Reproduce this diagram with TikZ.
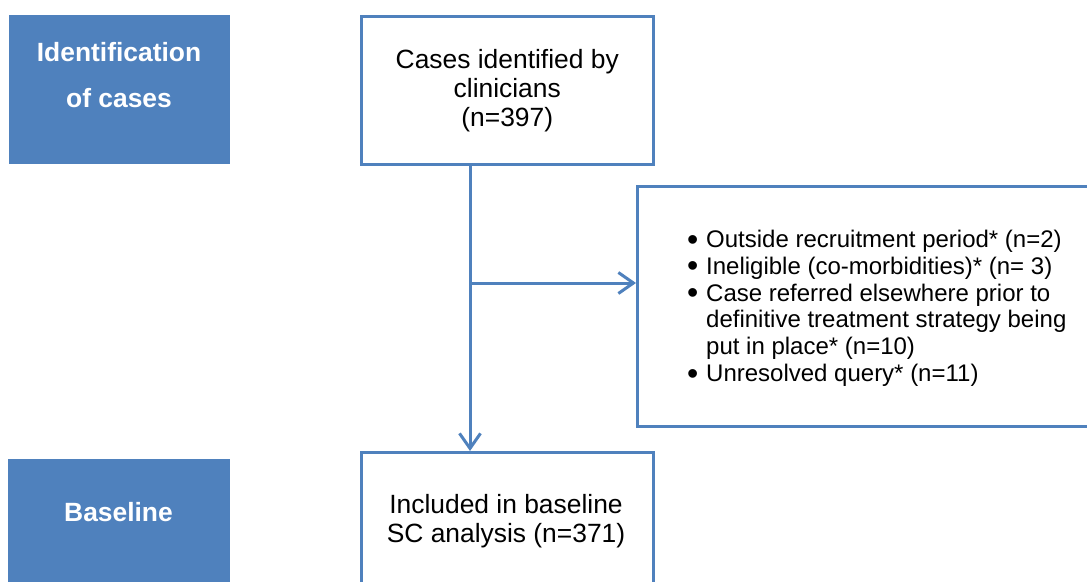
\documentclass[tikz,border=0pt]{standalone}
\usepackage{fontspec}
\setmainfont{Liberation Sans}
\usetikzlibrary{arrows.meta}
\definecolor{oblue}{HTML}{4F81BD}
\newcommand{\mybul}{\makebox[19pt][l]{\smash{\raisebox{-2.6pt}{\fontsize{32}{32}\selectfont\textbullet}}}}
\tikzset{
  stagebox/.style={fill=oblue, draw=oblue, line width=1pt, inner sep=0pt, anchor=north west},
  flowbox/.style={draw=oblue, fill=white, line width=2.5pt, inner sep=0pt, anchor=north west},
  stagetext/.style={text=white, font=\fontsize{26.4}{29}\selectfont\bfseries, align=center, inner sep=0pt},
  flowtext/.style={text=black, font=\fontsize{26.4}{29}\selectfont, align=center, inner sep=0pt},
  conn/.style={draw=oblue, line width=3pt},
  arr/.style={conn, -{Straight Barb[length=15pt,width=21pt]}}
}
\begin{document}
\begin{tikzpicture}[x=1pt,y=-1pt]
\useasboundingbox (0,0) rectangle (1087,581);
\clip (0,0) rectangle (1087,581);
\fill[white] (0,0) rectangle (1087,581);
% stage boxes
\node[stagebox, minimum width=220pt, minimum height=148pt] (ident) at (9,15) {};
\node[stagetext, anchor=base] (identtxt) at (119,107) {Identification\\[17pt]of cases};
\node[stagebox, minimum width=221pt, minimum height=140pt] (base) at (8,459) {};
\node[stagetext, anchor=base] (basetxt) at (118.5,521) {Baseline};
% flow boxes
\node[flowbox, minimum width=292pt, minimum height=148pt, flowtext] (cases) at (360,15) {Cases identified by\\clinicians\\(n=397)};
\node[flowbox, minimum width=470pt, minimum height=240pt] (excl) at (636,185) {};
\node[anchor=north west, inner sep=0pt, align=left, text=black,
      font=\fontsize{24}{26.8}\selectfont] (excltxt) at (687,230)
 {\mybul Outside recruitment period* (n=2)\\
  \mybul Ineligible (co-morbidities)* (n= 3)\\
  \mybul Case referred elsewhere prior to\\
  \hspace*{19pt}definitive treatment strategy being\\
  \hspace*{19pt}put in place* (n=10)\\
  \mybul Unresolved query* (n=11)};
\node[flowbox, minimum width=292pt, minimum height=150pt] (incl) at (360,451) {};
\node[flowtext, anchor=base] (incltxt) at (506,542) {Included in baseline\\SC analysis (n=371)};
% connectors
\coordinate (split) at (470,283);
\draw[arr] (cases.south -| split) -- (split |- incl.north);
\draw[arr] (split) -- (split -| excl.west);
\end{tikzpicture}
\end{document}
